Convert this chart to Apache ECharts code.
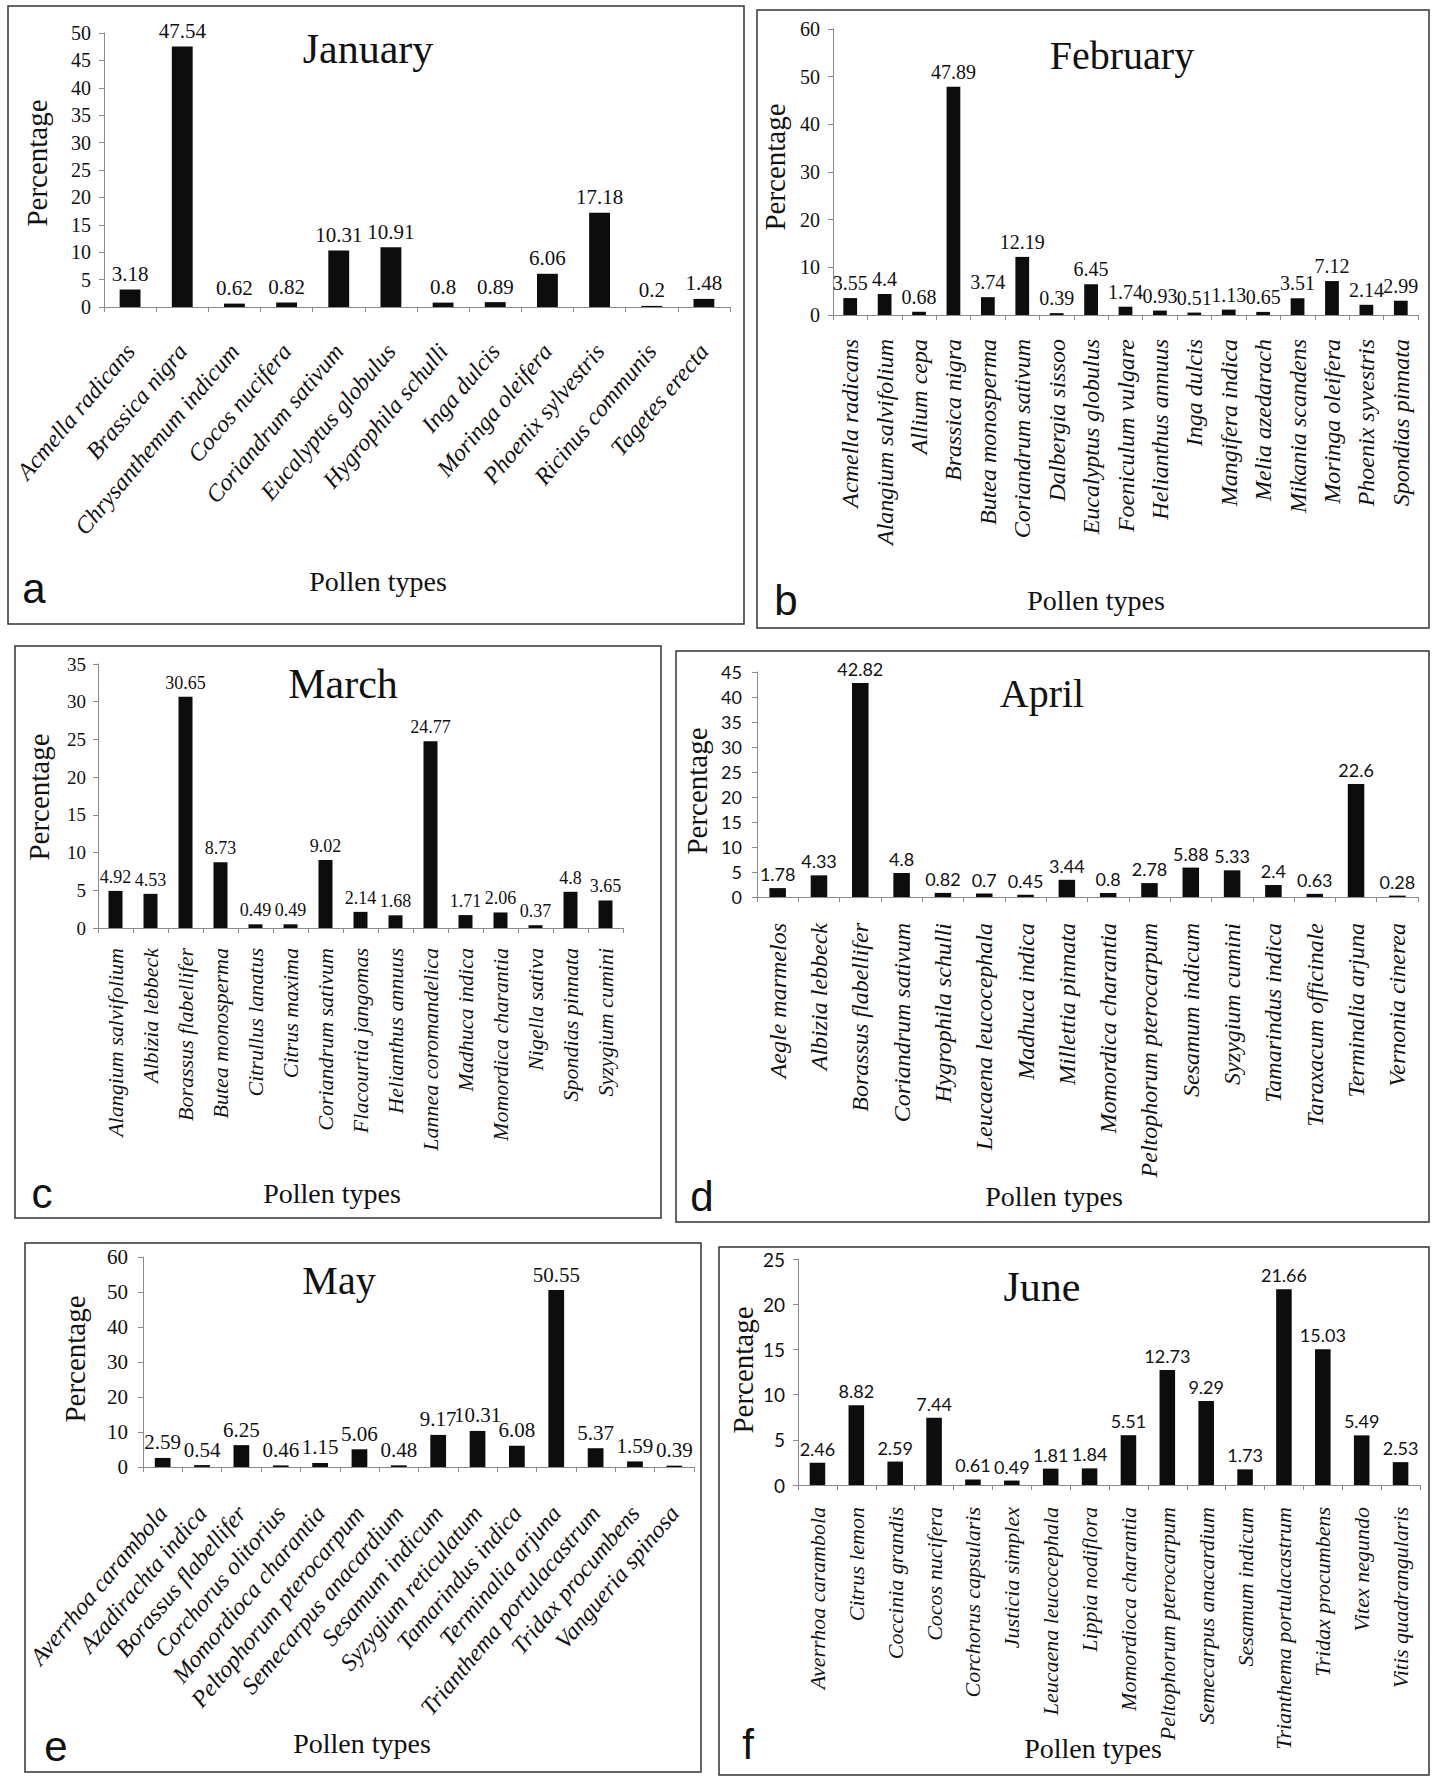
<!DOCTYPE html>
<html>
<head>
<meta charset="utf-8">
<script src="https://cdn.jsdelivr.net/npm/echarts@6/dist/echarts.min.js"></script>
<style>
  html, body { margin: 0; padding: 0; background: #fff; }
  #chart { width: 1437px; height: 1776px; }
</style>
</head>
<body>
<div id="chart"></div>
<script>
// January
const janTypes = ["Acmella radicans", "Brassica nigra", "Chrysanthemum indicum", "Cocos nucifera",
  "Coriandrum sativum", "Eucalyptus globulus", "Hygrophila schulli", "Inga dulcis",
  "Moringa oleifera", "Phoenix sylvestris", "Ricinus communis", "Tagetes erecta"];
const janValues = [3.18, 47.54, 0.62, 0.82, 10.31, 10.91, 0.8, 0.89, 6.06, 17.18, 0.2, 1.48];

// February
const febTypes = ["Acmella radicans", "Alangium salvifolium", "Allium cepa", "Brassica nigra",
  "Butea monosperma", "Coriandrum sativum", "Dalbergia sissoo", "Eucalyptus globulus",
  "Foeniculum vulgare", "Helianthus annuus", "Inga dulcis", "Mangifera indica",
  "Melia azedarach", "Mikania scandens", "Moringa oleifera", "Phoenix syvestris", "Spondias pinnata"];
const febValues = [3.55, 4.4, 0.68, 47.89, 3.74, 12.19, 0.39, 6.45, 1.74, 0.93, 0.51, 1.13, 0.65, 3.51, 7.12, 2.14, 2.99];

// March
const marTypes = ["Alangium salvifolium", "Albizia lebbeck", "Borassus flabellifer", "Butea monosperma",
  "Citrullus lanatus", "Citrus maxima", "Coriandrum sativum", "Flacourtia jangomas",
  "Helianthus annuus", "Lannea coromandelica", "Madhuca indica", "Momordica charantia",
  "Nigella sativa", "Spondias pinnata", "Syzygium cumini"];
const marValues = [4.92, 4.53, 30.65, 8.73, 0.49, 0.49, 9.02, 2.14, 1.68, 24.77, 1.71, 2.06, 0.37, 4.8, 3.65];

// April
const aprTypes = ["Aegle marmelos", "Albizia lebbeck", "Borassus flabellifer", "Coriandrum sativum",
  "Hygrophila schulli", "Leucaena leucocephala", "Madhuca indica", "Millettia pinnata",
  "Momordica charantia", "Peltophorum pterocarpum", "Sesamum indicum", "Syzygium cumini",
  "Tamarindus indica", "Taraxacum officinale", "Terminalia arjuna", "Vernonia cinerea"];
const aprValues = [1.78, 4.33, 42.82, 4.8, 0.82, 0.7, 0.45, 3.44, 0.8, 2.78, 5.88, 5.33, 2.4, 0.63, 22.6, 0.28];

// May
const mayTypes = ["Averrhoa carambola", "Azadirachta indica", "Borassus flabellifer", "Corchorus olitorius",
  "Momordioca charantia", "Peltophorum pterocarpum", "Semecarpus anacardium", "Sesamum indicum",
  "Syzygium reticulatum", "Tamarindus indica", "Terminalia arjuna", "Trianthema portulacastrum",
  "Tridax procumbens", "Vangueria spinosa"];
const mayValues = [2.59, 0.54, 6.25, 0.46, 1.15, 5.06, 0.48, 9.17, 10.31, 6.08, 50.55, 5.37, 1.59, 0.39];

// June
const junTypes = ["Averrhoa carambola", "Citrus lemon", "Coccinia grandis", "Cocos nucifera",
  "Corchorus capsularis", "Justicia simplex", "Leucaena leucocephala", "Lippia nodiflora",
  "Momordioca charantia", "Peltophorum pterocarpum", "Semecarpus anacardium", "Sesamum indicum",
  "Trianthema portulacastrum", "Tridax procumbens", "Vitex negundo", "Vitis quadrangularis"];
const junValues = [2.46, 8.82, 2.59, 7.44, 0.61, 0.49, 1.81, 1.84, 5.51, 12.73, 9.29, 1.73, 21.66, 15.03, 5.49, 2.53];

// y-axis ranges
const axisMax = [50, 60, 35, 45, 60, 25];
const axisStep = [5, 10, 5, 5, 10, 5];

const serif = '"Liberation Serif", "Times New Roman", serif';
const sans = 'Lato, "Liberation Sans", sans-serif';
const letterFont = '"Liberation Sans", Arial, sans-serif';

const panels = [
  { letter: "a", title: "January", types: janTypes, values: janValues,
    box: [8, 6, 736, 618], grid: [104, 33, 626, 274], rotate: 50, labelSize: 24, labelMargin: 40,
    tickFont: serif, tickSize: 20, tickMargin: 13, valueFont: serif, valueSize: 21, titleSize: 42,
    titlePos: [368, 49], pctPos: [37, 163], xNamePos: [378, 581], letterPos: [34, 588] },
  { letter: "b", title: "February", types: febTypes, values: febValues,
    box: [757, 10, 672, 618], grid: [833, 29, 585, 286], rotate: 90, labelSize: 24, labelMargin: 24,
    tickFont: serif, tickSize: 20, tickMargin: 13, valueFont: serif, valueSize: 20, titleSize: 40,
    titlePos: [1122, 55], pctPos: [775, 167], xNamePos: [1096, 600], letterPos: [786, 600] },
  { letter: "c", title: "March", types: marTypes, values: marValues,
    box: [15, 646, 646, 572], grid: [98, 664, 525, 264], rotate: 90, labelSize: 22, labelMargin: 20,
    tickFont: serif, tickSize: 19, tickMargin: 12, valueFont: serif, valueSize: 18, titleSize: 42,
    titlePos: [343, 684], pctPos: [39, 797], xNamePos: [332, 1193], letterPos: [42, 1193] },
  { letter: "d", title: "April", types: aprTypes, values: aprValues,
    box: [676, 651, 753, 571], grid: [757, 672, 661, 225], rotate: 90, labelSize: 24, labelMargin: 26,
    tickFont: sans, tickSize: 18, tickMargin: 15, valueFont: sans, valueSize: 18, titleSize: 40,
    titlePos: [1042, 693], pctPos: [697, 791], xNamePos: [1054, 1196], letterPos: [702, 1196] },
  { letter: "e", title: "May", types: mayTypes, values: mayValues,
    box: [25, 1243, 676, 529], grid: [143, 1257, 551, 210], rotate: 50, labelSize: 24, labelMargin: 42,
    tickFont: serif, tickSize: 21, tickMargin: 15, valueFont: serif, valueSize: 21, titleSize: 40,
    titlePos: [339, 1280], pctPos: [75, 1359], xNamePos: [362, 1743], letterPos: [56, 1746] },
  { letter: "f", title: "June", types: junTypes, values: junValues,
    box: [719, 1247, 710, 528], grid: [798, 1259, 622, 226], rotate: 90, labelSize: 22, labelMargin: 22,
    tickFont: sans, tickSize: 19, tickMargin: 13, valueFont: sans, valueSize: 18, titleSize: 42,
    titlePos: [1042, 1287], pctPos: [743, 1370], xNamePos: [1093, 1748], letterPos: [748, 1744] }
];

const chart = echarts.init(document.getElementById("chart"), null, { renderer: "svg" });

const grids = [], xAxes = [], yAxes = [], series = [], graphics = [];

panels.forEach((p, i) => {
  grids.push({ left: p.grid[0], top: p.grid[1], width: p.grid[2], height: p.grid[3], containLabel: false });

  xAxes.push({
    type: "category", gridIndex: i, data: p.types,
    axisLine: { show: true, lineStyle: { color: "#8a8a8a", width: 1 } },
    axisTick: { show: true, length: 5, lineStyle: { color: "#8a8a8a" } },
    axisLabel: {
      interval: 0, rotate: p.rotate, margin: p.labelMargin,
      fontFamily: serif, fontStyle: "italic", fontSize: p.labelSize, color: "#111"
    }
  });

  yAxes.push({
    type: "value", gridIndex: i, min: 0, max: axisMax[i], interval: axisStep[i],
    splitLine: { show: false },
    axisLine: { show: true, lineStyle: { color: "#8a8a8a", width: 1 } },
    axisTick: { show: true, length: 5, lineStyle: { color: "#8a8a8a" } },
    axisLabel: { margin: p.tickMargin, fontFamily: p.tickFont, fontSize: p.tickSize, color: "#111" }
  });

  series.push({
    type: "bar", xAxisIndex: i, yAxisIndex: i, data: p.values, barWidth: "40%",
    itemStyle: { color: "#0d0d0d" },
    label: {
      show: true, position: "top", distance: 5,
      fontFamily: p.valueFont, fontSize: p.valueSize, color: "#111"
    }
  });

  // panel frame
  graphics.push({
    type: "rect", shape: { x: p.box[0], y: p.box[1], width: p.box[2], height: p.box[3] },
    style: { fill: "none", stroke: "#333", lineWidth: 1.5 }, silent: true
  });
  // month title
  graphics.push({
    type: "text", x: p.titlePos[0], y: p.titlePos[1],
    style: { text: p.title, font: p.titleSize + "px " + serif, fill: "#111", align: "center", verticalAlign: "middle" }
  });
  // y-axis name
  graphics.push({
    type: "text", x: p.pctPos[0], y: p.pctPos[1], rotation: Math.PI / 2,
    style: { text: "Percentage", font: "29px " + serif, fill: "#111", align: "center", verticalAlign: "middle" }
  });
  // x-axis name
  graphics.push({
    type: "text", x: p.xNamePos[0], y: p.xNamePos[1],
    style: { text: "Pollen types", font: "28px " + serif, fill: "#111", align: "center", verticalAlign: "middle" }
  });
  // panel letter
  graphics.push({
    type: "text", x: p.letterPos[0], y: p.letterPos[1],
    style: { text: p.letter, font: "42px " + letterFont, fill: "#111", align: "center", verticalAlign: "middle" }
  });
});

chart.setOption({
  animation: false,
  backgroundColor: "#fff",
  grid: grids,
  xAxis: xAxes,
  yAxis: yAxes,
  series: series,
  graphic: graphics
});
</script>
</body>
</html>
